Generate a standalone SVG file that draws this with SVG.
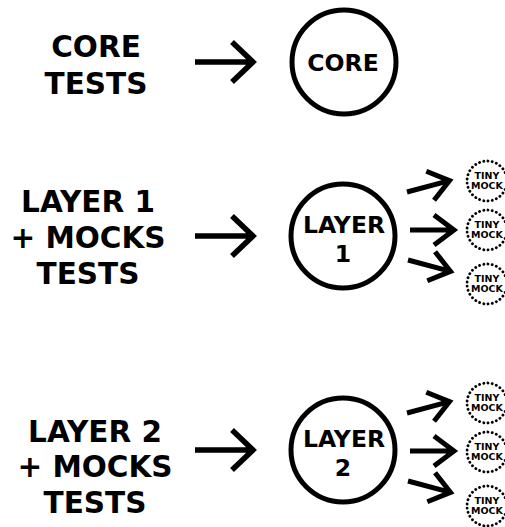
<svg xmlns="http://www.w3.org/2000/svg" width="505" height="527" viewBox="0 0 505 527">
<style>
text{font-family:"DejaVu Sans","Liberation Sans",sans-serif;font-weight:bold;fill:#000;text-anchor:middle}
.lbl{font-size:29.5px}
.big{font-size:23.5px}
.tiny{font-size:9.5px}
.node{fill:#fff;stroke:#000;stroke-width:5}
.mock{fill:#fff;stroke:#000;stroke-width:2.8;stroke-dasharray:0.1 4.2;stroke-linecap:round}
.arr{fill:none;stroke:#000;stroke-width:5.5;stroke-linecap:butt;stroke-linejoin:miter}
.sarr{fill:none;stroke:#000;stroke-width:5;stroke-linecap:butt;stroke-linejoin:miter}
</style>
<defs>
<path id="bigArrow" d="M0,0 L58,0 M37,-20 L58,0 L37,20"/>
<path id="smallArrow" d="M0,0 L44,0 M24,-15 L44,0 L24,15"/>
</defs>

<g id="label-core"><text class="lbl" x="96" y="57">CORE</text><text class="lbl" x="96" y="94">TESTS</text></g>
<g id="label-layer1"><text class="lbl" x="88" y="212">LAYER 1</text><text class="lbl" x="88" y="248">+ MOCKS</text><text class="lbl" x="88" y="284">TESTS</text></g>
<g id="label-layer2"><text class="lbl" x="95" y="442">LAYER 2</text><text class="lbl" x="95" y="477">+ MOCKS</text><text class="lbl" x="95" y="513">TESTS</text></g>

<g id="connectors">
<use href="#bigArrow" class="arr" x="195" y="62"/>
<use href="#bigArrow" class="arr" x="195" y="236"/>
<use href="#bigArrow" class="arr" x="195" y="450"/>
<use href="#smallArrow" class="sarr" transform="translate(407,192) rotate(-15)"/>
<use href="#smallArrow" class="sarr" transform="translate(410,230)"/>
<use href="#smallArrow" class="sarr" transform="translate(408,260) rotate(15)"/>
<use href="#smallArrow" class="sarr" transform="translate(407,413) rotate(-15)"/>
<use href="#smallArrow" class="sarr" transform="translate(410,451)"/>
<use href="#smallArrow" class="sarr" transform="translate(408,481) rotate(15)"/>
</g>

<g id="core"><circle class="node" cx="344" cy="62" r="52"/><text class="big" x="343" y="71">CORE</text></g>
<g id="layer1"><circle class="node" cx="343" cy="236" r="52"/><text class="big" x="344" y="233">LAYER</text><text class="big" x="343" y="262">1</text></g>
<g id="layer2"><circle class="node" cx="343" cy="450" r="52"/><text class="big" x="344" y="447">LAYER</text><text class="big" x="343" y="476">2</text></g>

<g id="mock1a"><circle class="mock" cx="487" cy="181" r="20"/><text class="tiny" x="487" y="179">TINY</text><text class="tiny" x="487" y="189">MOCK</text></g>
<g id="mock1b"><circle class="mock" cx="487" cy="230" r="20"/><text class="tiny" x="487" y="228">TINY</text><text class="tiny" x="487" y="238">MOCK</text></g>
<g id="mock1c"><circle class="mock" cx="487" cy="284" r="20"/><text class="tiny" x="487" y="282">TINY</text><text class="tiny" x="487" y="292">MOCK</text></g>
<g id="mock2a"><circle class="mock" cx="487" cy="403" r="20"/><text class="tiny" x="487" y="401">TINY</text><text class="tiny" x="487" y="411">MOCK</text></g>
<g id="mock2b"><circle class="mock" cx="487" cy="452" r="20"/><text class="tiny" x="487" y="450">TINY</text><text class="tiny" x="487" y="460">MOCK</text></g>
<g id="mock2c"><circle class="mock" cx="487" cy="506" r="20"/><text class="tiny" x="487" y="504">TINY</text><text class="tiny" x="487" y="514">MOCK</text></g>
</svg>
